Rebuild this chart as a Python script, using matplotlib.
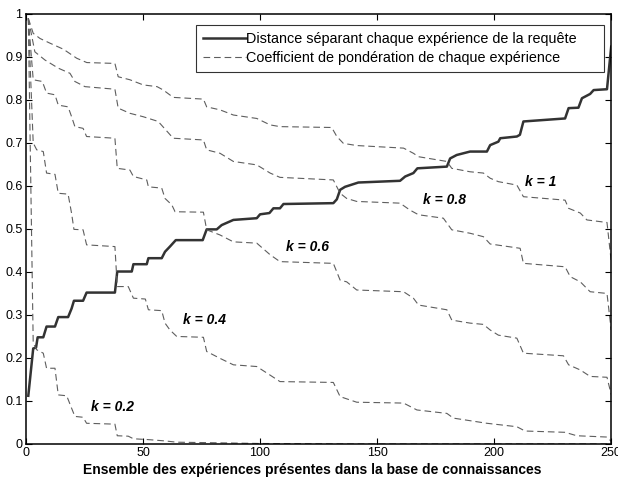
import matplotlib
matplotlib.use("Agg")
import matplotlib.pyplot as plt

plt.rcParams['font.family'] = ['Liberation Sans', 'DejaVu Sans']

# distance between each experience and the query (sorted)
dist_x = [1, 3.1, 4.3, 5, 7.4, 8.8, 12.4, 13.8, 18, 19.5, 20.5, 24.4, 25.9, 38, 39,
          45.2, 45.9, 51.6, 52.3, 58, 59.4, 61.5, 64, 75.5, 77.2, 81.5, 83.6, 88.6,
          98.6, 100, 104, 105.7, 108.5, 110, 131.3, 132.8, 134.2, 136.3, 142, 159.8,
          162, 165.5, 167.2, 179.8, 181.2, 184, 189.7, 196.9, 198.3, 201.8, 202.6,
          209.7, 211, 212.5, 230.3, 231.8, 236, 237.5, 241, 242.5, 248.2, 250]
dist_y = [0.112, 0.222, 0.224, 0.248, 0.248, 0.273, 0.273, 0.295, 0.295, 0.315, 0.333,
          0.333, 0.352, 0.352, 0.401, 0.401, 0.418, 0.418, 0.432, 0.432, 0.447, 0.459,
          0.474, 0.474, 0.499, 0.499, 0.509, 0.521, 0.525, 0.534, 0.537, 0.548, 0.548,
          0.558, 0.560, 0.569, 0.591, 0.598, 0.608, 0.612, 0.622, 0.630, 0.641, 0.645,
          0.664, 0.672, 0.680, 0.680, 0.695, 0.703, 0.711, 0.715, 0.719, 0.750, 0.757,
          0.781, 0.782, 0.804, 0.814, 0.823, 0.825, 0.924]

# weighting coefficient for each k
w1_x = [1, 3.1, 6, 10.3, 16, 21.7, 26, 38, 39.4, 44.4, 50.1, 56, 58.7, 62.9, 75.8,
        77.2, 82.9, 88.6, 98.6, 104.3, 108.5, 130.6, 132.8, 135.6, 141.3, 161.3,
        165.5, 167.7, 179.8, 181.9, 189.7, 195.4, 198.3, 201.8, 209.7, 212.5, 230.3,
        231.8, 236.8, 239.6, 248.2, 250]
w1_y = [0.99, 0.955, 0.943, 0.932, 0.918, 0.897, 0.887, 0.885, 0.854, 0.847, 0.835,
        0.831, 0.823, 0.806, 0.802, 0.784, 0.777, 0.765, 0.757, 0.742, 0.738, 0.736,
        0.715, 0.699, 0.694, 0.688, 0.676, 0.668, 0.657, 0.641, 0.633, 0.630, 0.618,
        0.610, 0.602, 0.575, 0.567, 0.548, 0.537, 0.521, 0.515, 0.425]

w08_x = [1, 3.8, 8.1, 13.8, 18.8, 20.9, 25.2, 38, 39.4, 44.4, 50.1, 56.5, 62.9, 75.8,
         77.2, 82.9, 88.6, 98.6, 104.3, 108.5, 131.3, 134.2, 137, 141.3, 159.8, 164,
         167.7, 178.3, 181.9, 189.7, 195.4, 198.3, 211.1, 212.5, 230.3, 232.5, 236.8,
         241, 248.2, 250]
w08_y = [0.99, 0.912, 0.893, 0.874, 0.862, 0.843, 0.831, 0.825, 0.781, 0.769, 0.761,
         0.750, 0.711, 0.707, 0.684, 0.676, 0.657, 0.649, 0.630, 0.620, 0.614, 0.583,
         0.571, 0.564, 0.560, 0.544, 0.533, 0.525, 0.498, 0.490, 0.482, 0.465, 0.455,
         0.420, 0.412, 0.389, 0.377, 0.354, 0.350, 0.265]

w06_x = [1, 3.1, 7, 8.8, 12.4, 13.8, 18, 19.5, 20.9, 24.4, 25.9, 38, 39, 44.4, 45.9,
         51.6, 52.3, 58, 59.4, 62.3, 63.7, 75.8, 77.2, 82.9, 88.6, 98.6, 104.3, 108.5,
         131.3, 134.2, 137, 141.3, 161.3, 165.5, 167.7, 179.8, 181.9, 189.7, 195.4,
         198.3, 201.8, 209.7, 212.5, 229.6, 231.8, 236.8, 241, 248.2, 250]
w06_y = [0.99, 0.847, 0.843, 0.816, 0.812, 0.788, 0.784, 0.761, 0.738, 0.734, 0.715,
         0.711, 0.641, 0.637, 0.622, 0.614, 0.598, 0.595, 0.571, 0.556, 0.540, 0.539,
         0.498, 0.486, 0.470, 0.467, 0.440, 0.424, 0.420, 0.381, 0.377, 0.358, 0.354,
         0.339, 0.323, 0.312, 0.288, 0.281, 0.278, 0.265, 0.253, 0.246, 0.211, 0.205,
         0.184, 0.172, 0.157, 0.155, 0.115]

w04_x = [1, 3.1, 4.6, 7.4, 8.8, 12.4, 13.8, 18, 19.5, 20.5, 24.4, 25.9, 38, 39, 43.7,
         45.9, 51, 52.3, 58, 59.4, 61.5, 64.4, 75.8, 77.2, 82.9, 88.6, 98.6, 104.3,
         108.5, 131.3, 134.2, 141.3, 161.3, 167, 179.8, 182.6, 196.9, 209.7, 213.2,
         230.3, 235.3, 248.2, 250]
w04_y = [0.99, 0.70, 0.684, 0.680, 0.630, 0.627, 0.583, 0.581, 0.536, 0.499, 0.498,
         0.463, 0.459, 0.366, 0.366, 0.339, 0.337, 0.312, 0.310, 0.281, 0.265, 0.250,
         0.248, 0.215, 0.199, 0.184, 0.180, 0.160, 0.145, 0.143, 0.110, 0.097, 0.095,
         0.079, 0.071, 0.060, 0.048, 0.040, 0.030, 0.027, 0.019, 0.016, 0.006]

w02_x = [1, 3.1, 4.6, 7.4, 8.8, 12.4, 13.8, 17.4, 19.5, 20.9, 24.4, 25.9, 38, 39, 43.7,
         45.9, 52.3, 59.4, 64.4, 77, 100, 140, 250]
w02_y = [0.99, 0.234, 0.219, 0.211, 0.176, 0.176, 0.114, 0.112, 0.083, 0.064, 0.062,
         0.048, 0.046, 0.019, 0.018, 0.012, 0.010, 0.007, 0.004, 0.003, 0.001, 0.0, 0.0]

k_labels = ['k = 1', 'k = 0.8', 'k = 0.6', 'k = 0.4', 'k = 0.2']
k_label_pos = [(220, 0.61), (178.6, 0.567), (120.3, 0.459), (76.1, 0.288), (37, 0.087)]

fig = plt.figure(figsize=(6.18, 4.82), dpi=100)
ax = fig.add_axes([0.042, 0.079, 0.947, 0.892])

dash = (0, (6, 3.5))
grey = '#5e5e5e'
ax.plot(dist_x, dist_y, color='#333333', lw=1.8,
        label='Distance séparant chaque expérience de la requête     ')
ax.plot(w1_x, w1_y, color=grey, lw=0.8, linestyle=dash,
        label='Coefficient de pondération de chaque expérience')
for wx, wy in [(w08_x, w08_y), (w06_x, w06_y), (w04_x, w04_y), (w02_x, w02_y)]:
    ax.plot(wx, wy, color=grey, lw=0.8, linestyle=dash)

for text, (tx, ty) in zip(k_labels, k_label_pos):
    ax.text(tx, ty, text, ha='center', va='center', fontsize=10,
            fontweight='bold', fontstyle='italic')

ax.set_xlim(0, 250)
ax.set_ylim(0, 1)
ax.set_xticks([0, 50, 100, 150, 200, 250])
ax.set_yticks([i / 10 for i in range(11)])
ax.set_yticklabels(['0'] + ['%.1f' % (i / 10) for i in range(1, 10)] + ['1'])
ax.tick_params(direction='in', top=True, right=True, length=4, width=0.8,
               labelsize=9, pad=2.5)
for sp in ax.spines.values():
    sp.set_linewidth(1.1)

ax.set_xlabel('Ensemble des expériences présentes dans la base de connaissances',
              fontsize=10, fontweight='bold', labelpad=1)
ax.xaxis.set_label_coords(0.489, -0.045)

leg = ax.legend(loc='upper right', bbox_to_anchor=(0.988, 0.975), borderaxespad=0,
                fancybox=False, edgecolor='black', fontsize=10.4, handlelength=3.0,
                handletextpad=0.0, borderpad=0.5, labelspacing=0.35)
leg.get_frame().set_linewidth(0.8)

fig.savefig('out.png', dpi=100)
